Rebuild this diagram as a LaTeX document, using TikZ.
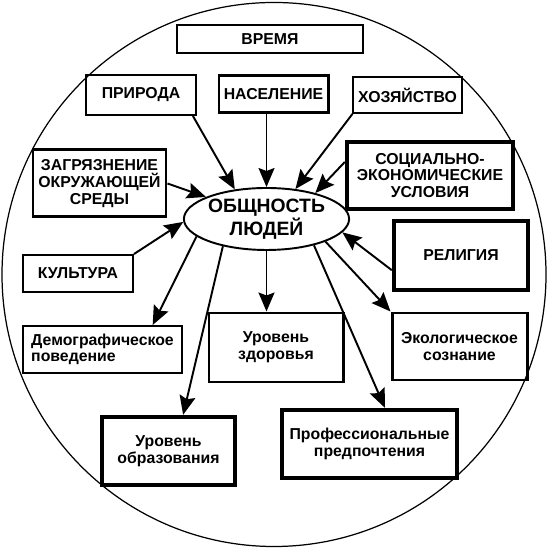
\documentclass[tikz,border=0pt]{standalone}
\usepackage{fontspec}
\setmainfont{Liberation Sans}
\usetikzlibrary{arrows.meta, shapes.geometric, positioning}

\begin{document}
\begin{tikzpicture}[>={Stealth[length=0.38cm,width=0.32cm,inset=0.06cm]},
  box/.style={draw, line width=1.1pt, align=center, inner sep=2pt,
    font=\bfseries\fontsize{9}{9.5}\selectfont},
  midbox/.style={box, line width=1.7pt},
  thickbox/.style={box, line width=2.5pt},
  link/.style={->, line width=1.1pt}]
  \useasboundingbox (0,0) rectangle (10.98,10.98);
  % outer circle
  \draw[line width=0.7pt] (5.48,5.49) circle (5.44);
  % centre
  \node[draw, ellipse, line width=1.1pt, minimum width=3.06cm, minimum height=1.24cm, inner sep=0pt,
    align=center, font=\bfseries\fontsize{11}{10.5}\selectfont] (obsh) at (5.33,6.60) {ОБЩНОСТЬ\\ЛЮДЕЙ};
  % factors
  \node[box, minimum width=3.72cm, minimum height=0.56cm] (vremya) at (5.40,10.20) {ВРЕМЯ};
  \node[box, minimum width=2.2cm, minimum height=0.8cm] (priroda) at (2.82,9.08) {ПРИРОДА};
  \node[midbox, minimum width=2.18cm, minimum height=0.74cm] (naselenie) at (5.47,9.09) {НАСЕЛЕНИЕ};
  \node[box, minimum width=2.18cm, minimum height=0.72cm] (hoz) at (8.15,9.08) {ХОЗЯЙСТВО};
  \node[midbox, minimum width=2.66cm, minimum height=1.34cm] (zagr) at (1.99,7.31) {ЗАГРЯЗНЕНИЕ\\ОКРУЖАЮЩЕЙ\\СРЕДЫ};
  \node[thickbox, minimum width=3.32cm, minimum height=1.34cm] (soc) at (8.60,7.47) {СОЦИАЛЬНО-\\ЭКОНОМИЧЕСКИЕ\\УСЛОВИЯ};
  \node[thickbox, minimum width=2.68cm, minimum height=1.38cm] (relig) at (9.22,5.87) {РЕЛИГИЯ};
  \node[box, minimum width=2.2cm, minimum height=0.74cm] (kult) at (1.56,5.51) {КУЛЬТУРА};
  % results
  \node[box, align=left, minimum width=3.18cm, minimum height=0.94cm] (demogr) at (2.05,3.99) {Демографическое\\поведение};
  \node[midbox, minimum width=2.68cm, minimum height=1.38cm] (zdor) at (5.52,4.03) {Уровень\\здоровья};
  \node[midbox, minimum width=2.7cm, minimum height=1.34cm] (ekol) at (9.19,4.05) {Экологическое\\сознание};
  \node[thickbox, minimum width=2.66cm, minimum height=1.36cm] (obraz) at (3.37,1.96) {Уровень\\образования};
  \node[thickbox, minimum width=3.5cm, minimum height=1.36cm] (prof) at (7.39,2.10) {Профессиональные\\предпочтения};
  % arrows in
  \draw[link] (priroda.-22) -- (obsh.137);
  \draw[link] (naselenie.south -| obsh.north) -- (obsh.north);
  \draw[link] (hoz.199) -- (obsh.46);
  \draw[link] (soc.171) -- (obsh.28);
  \draw[link] (zagr.east) -- (obsh.160);
  \draw[link] (kult.north east) -- (obsh.182);
  \draw[link] (relig.192) -- (obsh.350);
  % arrows out
  \draw[link] (obsh.194) -- (demogr.26);
  \draw[link] (obsh.212) -- (obraz.68);
  \draw[link] (obsh.south) -- (zdor.north -| obsh.south);
  \draw[link] (obsh.331) -- (prof.67);
  \draw[link] (obsh.339) -- (ekol.north west);
\end{tikzpicture}
\end{document}
